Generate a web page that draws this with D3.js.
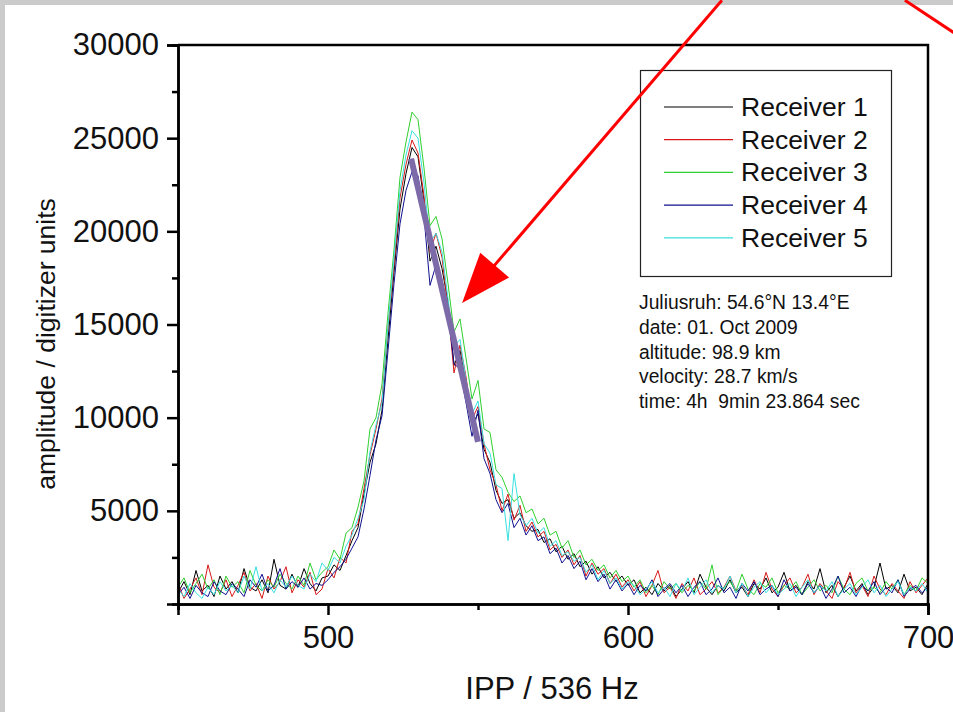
<!DOCTYPE html>
<html>
<head>
<meta charset="utf-8">
<script src="https://cdn.jsdelivr.net/npm/d3@7"></script>
<style>
  body { margin: 0; background: #cbcbcb; }
  svg { display: block; }
  text { font-family: Arial, "Liberation Sans", sans-serif; fill: #111; }
</style>
</head>
<body>
<svg id="chart" width="953" height="712"></svg>
<script>
// Data: amplitude in thousands of digitizer units, read every 2nd IPP
var ipp = d3.range(450, 701, 2);

var receiver1 = [
  0.6, 1.2, 0.5, 1.8, 0.7, 1.0, 0.4, 1.5, 0.8, 1.2, 0.6, 1.9, 0.9, 0.7, 1.3, 0.6, 2.4, 1.0, 0.8, 1.6, 0.9, 1.9, 1.1, 0.7, 1.4,
  1.5, 2.1, 1.8, 2.6, 3.4, 4.1, 5.9, 7.6, 8.6, 10.4, 14.2, 17.8, 21.2, 23.1, 24.5, 24.0, 21.6, 18.4, 19.2, 18.0, 16.2, 12.8, 13.6, 11.8, 9.6,
  10.2, 8.3, 7.6, 6.1, 5.4, 5.6, 4.6, 4.9, 4.2, 3.9, 4.0, 3.3, 3.5, 2.8, 3.1, 2.4, 2.7, 2.0, 2.3, 1.6, 2.0, 1.4, 1.7, 1.2, 1.5, 1.0,
  1.3, 0.6, 0.9, 0.5, 1.1, 0.7, 1.0, 0.4, 0.8, 1.2, 0.6, 1.6, 0.9, 0.5, 1.0, 0.7, 1.3, 0.6, 0.9, 0.4, 1.1, 0.8, 1.4, 0.6, 0.9,
  1.7, 0.7, 1.0, 0.5, 1.2, 0.8, 1.9, 0.6, 1.0, 0.4, 0.9, 1.5, 0.7, 1.1, 0.5, 0.9, 2.2, 0.8, 1.0, 0.6, 1.6, 0.7, 0.9, 0.5, 1.1
];
var receiver2 = [
  1.1, 0.3, 0.8, 1.4, 0.5, 2.1, 0.9, 0.6, 1.3, 0.4, 1.0, 1.7, 0.7, 1.1, 0.3, 1.5, 0.8, 1.2, 2.0, 0.6, 1.3, 0.9, 1.7, 0.5, 0.8,
  1.9, 1.4, 2.5, 2.2, 3.9, 4.3, 6.2, 8.0, 9.4, 11.0, 14.8, 18.2, 21.8, 23.6, 24.9, 24.2, 21.9, 18.9, 19.9, 18.6, 15.9, 12.4, 13.9, 12.2, 9.9,
  10.6, 8.6, 7.2, 6.4, 5.0, 5.9, 4.5, 5.3, 3.9, 4.4, 3.6, 3.9, 2.9, 3.2, 2.5, 2.9, 2.1, 2.6, 1.5, 2.2, 1.6, 1.9, 1.1, 1.6, 0.9, 1.3,
  0.7, 1.2, 0.4, 1.0, 1.8, 0.6, 0.9, 0.3, 1.1, 0.7, 1.4, 0.5, 0.8, 1.2, 0.6, 0.9, 1.5, 0.7, 1.0, 0.5, 1.3, 0.6, 1.7, 0.8, 0.4,
  1.0, 1.4, 0.6, 0.9, 1.6, 0.5, 1.1, 0.7, 0.3, 1.2, 0.8, 1.7, 0.6, 1.0, 0.4, 1.5, 0.8, 0.5, 1.1, 0.7, 0.3, 1.2, 0.6, 1.0, 1.4
];
var receiver3 = [
  0.9, 1.4, 0.6, 1.1, 1.6, 0.8, 1.3, 0.5, 1.5, 0.9, 1.2, 0.6, 1.8, 1.0, 0.7, 1.3, 0.9, 1.6, 1.1, 0.8, 1.5, 1.0, 2.2, 1.3, 1.7,
  2.0, 2.9, 2.4, 3.8, 4.1, 5.2, 6.6, 9.4, 10.0, 11.8, 15.6, 19.0, 22.9, 24.8, 26.4, 26.0, 23.4, 20.3, 20.8, 19.6, 17.2, 14.6, 15.3, 13.2, 11.0,
  12.0, 9.4, 9.2, 7.2, 6.8, 6.0, 5.5, 5.8, 4.9, 5.1, 4.3, 4.6, 3.7, 3.9, 3.0, 3.4, 2.5, 2.9, 2.1, 2.4, 1.8, 2.1, 1.4, 1.8, 1.2, 1.5,
  0.9, 1.3, 0.6, 1.0, 0.5, 1.2, 0.8, 1.1, 0.6, 1.0, 0.7, 1.2, 0.8, 2.1, 0.5, 0.9, 1.2, 0.7, 1.6, 0.8, 0.5, 1.1, 0.9, 1.4, 0.6,
  1.0, 0.8, 1.2, 0.5, 0.9, 1.3, 0.7, 1.0, 0.6, 1.5, 0.8, 0.5, 1.1, 1.4, 0.7, 0.9, 0.6, 1.2, 0.8, 1.3, 0.5, 1.0, 0.7, 1.4, 1.1
];
var receiver4 = [
  0.5, 0.9, 0.3, 1.0, 0.6, 0.4, 1.2, 0.7, 0.5, 1.1, 0.8, 0.4, 1.3, 0.9, 1.6, 0.7, 1.0, 1.9, 0.8, 1.2, 0.9, 1.4, 0.8, 1.1, 1.0,
  1.3, 1.7, 2.0, 2.4, 3.0, 3.6, 5.1, 6.9, 8.8, 10.1, 13.6, 17.2, 20.4, 22.2, 23.2, 23.0, 20.8, 17.1, 18.2, 17.4, 15.6, 12.9, 12.6, 10.8, 9.0,
  10.4, 7.8, 7.0, 5.6, 4.9, 5.4, 4.1, 4.6, 3.7, 4.2, 3.4, 3.6, 2.7, 3.0, 2.2, 2.6, 1.9, 2.3, 1.3, 1.9, 1.2, 1.6, 0.8, 1.3, 0.7, 1.1,
  0.5, 1.0, 0.7, 1.3, 0.4, 0.8, 1.1, 0.6, 1.0, 0.4, 0.9, 1.2, 0.5, 0.8, 1.4, 0.6, 0.9, 0.3, 1.1, 0.7, 1.2, 0.5, 0.8, 1.0, 0.4,
  1.3, 0.7, 0.9, 0.5, 1.1, 0.6, 1.0, 0.3, 0.8, 1.5, 0.6, 0.9, 0.4, 1.0, 0.7, 1.2, 0.5, 0.9, 0.6, 1.3, 0.4, 0.8, 1.0, 0.6, 0.9
];
var receiver5 = [
  0.8, 0.4, 1.1, 0.6, 0.3, 0.9, 0.5, 1.2, 0.7, 1.0, 0.6, 1.5, 0.8, 2.0, 0.7, 1.1, 0.6, 1.3, 0.9, 1.5, 1.0, 0.8, 1.6, 1.2, 2.2,
  1.8, 2.5, 2.2, 3.1, 3.7, 4.6, 5.6, 8.2, 9.6, 10.8, 14.9, 18.6, 22.2, 24.1, 25.4, 25.0, 22.6, 19.4, 19.9, 18.9, 16.4, 13.8, 14.2, 12.0, 10.2,
  10.9, 8.6, 8.1, 6.4, 6.2, 3.4, 7.0, 4.8, 4.2, 4.6, 3.8, 4.1, 3.1, 3.4, 2.6, 2.8, 2.3, 2.5, 1.7, 2.1, 1.3, 1.8, 1.1, 1.4, 0.8, 1.2,
  1.0, 0.5, 0.8, 1.2, 0.6, 0.9, 0.4, 1.1, 0.7, 1.4, 0.5, 0.9, 1.3, 0.6, 1.0, 0.8, 1.5, 0.6, 1.1, 0.4, 0.9, 1.2, 0.6, 1.0, 0.5,
  0.8, 1.1, 0.4, 0.9, 1.3, 0.6, 1.0, 0.7, 1.2, 0.4, 0.8, 1.1, 0.5, 0.9, 1.3, 0.6, 1.0, 0.4, 0.8, 1.2, 0.5, 0.9, 0.7, 1.1, 0.6
];

var names = ["Receiver 1", "Receiver 2", "Receiver 3", "Receiver 4", "Receiver 5"];
var colors = ["#000000", "#d81818", "#2fd02f", "#101090", "#38e0e0"];
var allValues = [receiver1, receiver2, receiver3, receiver4, receiver5];

var xMajor = [500, 600, 700];
var xMinor = [450, 550, 650];
var yMajor = [5000, 10000, 15000, 20000, 25000, 30000];
var yMinor = [2500, 7500, 12500, 17500, 22500, 27500];

// fitted slope on the falling edge (IPP, amplitude)
var fitIpp = [527.7, 550.0];
var fitAmp = [23900, 8700];

// red arrows, given in data coordinates (tail, tip); the second one runs off the page
var arrowIpp = [[631.3, 544.7], [692.3, 734.0]];
var arrowAmp = [[32400, 16150], [32400, 27960]];

var infoLines = [
  "Juliusruh: 54.6°N 13.4°E",
  "date: 01. Oct 2009",
  "altitude: 98.9 km",
  "velocity: 28.7 km/s",
  "time: 4h  9min 23.864 sec"
];

function drawChart() {
  // Sizing
  var width = 953,
    height = 712;
  var plotLeft = 178,
    plotRight = 928,
    plotTop = 45,
    plotBottom = 604;

  var svg = d3.select("#chart");

  // white sheet over the gray page
  svg
    .append("rect")
    .attr("x", 5)
    .attr("y", 5)
    .attr("width", width - 5)
    .attr("height", height - 5)
    .attr("fill", "#ffffff");

  var x = d3.scaleLinear().domain([450, 700]).range([plotLeft, plotRight]);
  var y = d3.scaleLinear().domain([0, 30000]).range([plotBottom, plotTop]);

  var line = d3
    .line()
    .x((d) => x(d[0]))
    .y((d) => y(d[1] * 1000));

  // Traces
  allValues.forEach(function (vals, k) {
    var pts = vals.map((v, i) => [ipp[i], v]);
    svg
      .append("path")
      .attr("d", line(pts))
      .attr("fill", "none")
      .attr("stroke", colors[k])
      .attr("stroke-width", 1)
      .attr("stroke-linejoin", "round");
  });

  // Fit line
  svg
    .append("line")
    .attr("x1", x(fitIpp[0]))
    .attr("y1", y(fitAmp[0]))
    .attr("x2", x(fitIpp[1]))
    .attr("y2", y(fitAmp[1]))
    .attr("stroke", "#7d6aa8")
    .attr("stroke-width", 6);

  // Axes
  function styleAxis(g) {
    g.selectAll("path").attr("stroke", "#000").attr("stroke-width", 2.5);
    g.selectAll("line").attr("stroke", "#000").attr("stroke-width", 2.5);
    g.selectAll("text")
      .attr("fill", "#111")
      .style("font-size", "31px")
      .style("font-family", "Arial, 'Liberation Sans', sans-serif");
  }

  svg
    .append("g")
    .attr("transform", "translate(0," + plotBottom + ")")
    .call(d3.axisBottom(x).tickValues(xMinor).tickSize(6).tickFormat(""))
    .call(styleAxis);
  svg
    .append("g")
    .attr("transform", "translate(0," + plotBottom + ")")
    .call(d3.axisBottom(x).tickValues(xMajor).tickSize(11).tickPadding(11).tickFormat(d3.format("d")))
    .call(styleAxis);

  svg
    .append("g")
    .attr("transform", "translate(" + plotLeft + ",0)")
    .call(d3.axisLeft(y).tickValues(yMinor).tickSize(6).tickFormat(""))
    .call(styleAxis);
  svg
    .append("g")
    .attr("transform", "translate(" + plotLeft + ",0)")
    .call(d3.axisLeft(y).tickValues(yMajor).tickSize(11).tickPadding(8).tickFormat(d3.format("d")))
    .call(styleAxis);

  // frame top and right
  svg
    .append("path")
    .attr("d", "M" + plotLeft + "," + plotTop + "H" + plotRight + "V" + plotBottom)
    .attr("fill", "none")
    .attr("stroke", "#000")
    .attr("stroke-width", 2.5);

  // Axis titles
  svg
    .append("text")
    .attr("x", 552)
    .attr("y", 699)
    .attr("text-anchor", "middle")
    .style("font-size", "31px")
    .text("IPP / 536 Hz");

  svg
    .append("text")
    .attr("transform", "translate(55,344) rotate(-90)")
    .attr("text-anchor", "middle")
    .style("font-size", "26.5px")
    .text("amplitude / digitizer units");

  // Legend
  var legend = svg.append("g");
  legend
    .append("rect")
    .attr("x", 640.5)
    .attr("y", 70.5)
    .attr("width", 251)
    .attr("height", 206)
    .attr("fill", "#fff")
    .attr("stroke", "#222")
    .attr("stroke-width", 1.2);

  names.forEach(function (name, k) {
    var cy = 107 + k * 32.7;
    legend
      .append("line")
      .attr("x1", 664)
      .attr("x2", 733)
      .attr("y1", cy)
      .attr("y2", cy)
      .attr("stroke", colors[k])
      .attr("stroke-width", 1.2);
    legend
      .append("text")
      .attr("x", 741)
      .attr("y", cy + 9)
      .style("font-size", "26.5px")
      .text(name);
  });

  // Info block
  svg
    .append("g")
    .selectAll("text")
    .data(infoLines)
    .enter()
    .append("text")
    .attr("x", 639)
    .attr("y", (d, i) => 309 + i * 24.8)
    .attr("xml:space", "preserve")
    .style("white-space", "pre")
    .style("font-size", "19.3px")
    .text((d) => d);

  // Red arrows
  arrowIpp.forEach(function (xs, k) {
    var x0 = x(xs[0]),
      y0 = y(arrowAmp[k][0]),
      x1 = x(xs[1]),
      y1 = y(arrowAmp[k][1]);
    var dx = x1 - x0,
      dy = y1 - y0,
      len = Math.hypot(dx, dy);
    var ux = dx / len,
      uy = dy / len;
    var headLen = 50,
      headHalf = 19;
    var bx = x1 - ux * headLen,
      by = y1 - uy * headLen;
    svg
      .append("line")
      .attr("x1", x0)
      .attr("y1", y0)
      .attr("x2", bx + ux * 2)
      .attr("y2", by + uy * 2)
      .attr("stroke", "#ff0000")
      .attr("stroke-width", 3);
    svg
      .append("polygon")
      .attr(
        "points",
        [
          [x1, y1],
          [bx - uy * headHalf, by + ux * headHalf],
          [bx + uy * headHalf, by - ux * headHalf],
        ].join(" ")
      )
      .attr("fill", "#ff0000");
  });
}

drawChart();
</script>
</body>
</html>
